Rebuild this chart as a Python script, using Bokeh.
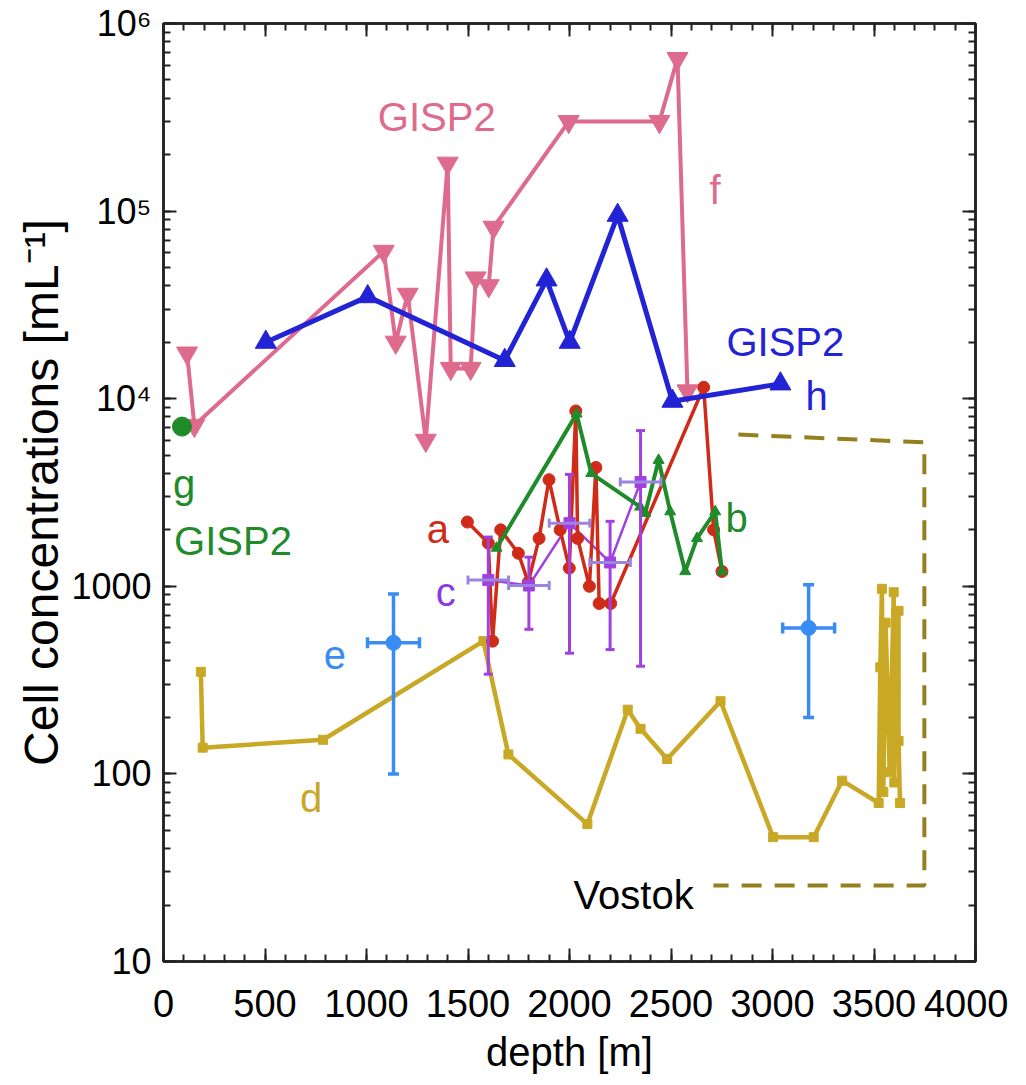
from bokeh.plotting import figure
from bokeh.models import (Range1d, FixedTicker, LinearAxis, LogAxis, CustomJSTickFormatter,
                          ColumnDataSource, Whisker, TeeHead)
from bokeh.core.properties import value
from bokeh.embed import file_html
from bokeh.resources import INLINE

FONT = "Liberation Sans"

# ---------------- data ----------------
# f: GISP2 (pink, inverted triangles)
f_depth = [116, 152, 1085, 1144, 1203, 1292, 1400, 1415, 1513, 1538, 1602, 1626, 1996, 2443, 2532, 2581]
f_cells = [17500, 7200, 61000, 20000, 36000, 6000, 180000, 14500, 14500, 44000, 40000, 82000,
           300000, 300000, 650000, 11000]

# h: GISP2 (blue, triangles)
h_depth = [504, 1006, 1681, 1887, 2001, 2237, 2507, 3039]
h_cells = [20000, 35000, 16000, 43000, 20000, 95000, 9700, 12000]

# g: GISP2 (green dot)
g_depth = [91]
g_cells = [7100]

# a (red circles)
a_depth = [1497, 1600, 1621, 1661, 1748, 1797, 1850, 1899, 1954, 1999, 2031, 2040, 2098, 2130,
           2146, 2203, 2661, 2710, 2751]
a_cells = [2200, 1700, 510, 2000, 1500, 1050, 1800, 3700, 2000, 1250, 8600, 1800, 1000, 4300,
           810, 810, 11500, 2000, 1200]

# b (green small triangles)
b_depth = [1641, 2035, 2107, 2348, 2373, 2439, 2496, 2570, 2628, 2718, 2751]
b_cells = [1600, 8300, 4000, 2650, 2450, 4700, 2500, 1200, 1800, 2500, 1200]

# c (purple squares with error bars)
c_depth = [1600, 1800, 2000, 2200, 2350]
c_cells = [1080, 1010, 2170, 1340, 3600]
c_cells_hi = [1830, 1430, 3950, 2220, 6760]
c_cells_lo = [340, 590, 440, 460, 375]
c_depth_err = [100, 100, 100, 100, 100]

# e (light blue dots with error bars)
e_depth = [1133, 3178]
e_cells = [500, 600]
e_cells_hi = [910, 1020]
e_cells_lo = [100, 200]
e_depth_err = [128, 128]

# d: Vostok (gold squares)
d_depth = [184, 193, 786, 1576, 1699, 2088, 2287, 2350, 2481, 2744, 3003, 3203, 3343, 3523,
           3531, 3539, 3546, 3557, 3568, 3577, 3597, 3600, 3605, 3621, 3621, 3628]
d_cells = [350, 138, 152, 510, 127, 54, 220, 174, 120, 244, 46, 46, 92, 70,
           370, 970, 80, 640, 250, 102, 930, 90, 300, 740, 150, 70]

# Vostok bracket
bracket_depth = [2832, 3748, 3748, 2709]
bracket_cells = [6440, 5850, 25.4, 25.4]

# axis ticks
x_ticks = [0, 500, 1000, 1500, 2000, 2500, 3000, 3500, 4000]
x_minor = list(range(0, 4001, 100))
y_ticks = [10, 100, 1000, 10000, 100000, 1000000]
y_tick_labels = ["10", "100", "1000", "10\u2074", "10\u2075", "10\u2076"]
y_minor = [m * 10 ** k for k in range(1, 6) for m in range(1, 10)]

# annotations (text, depth, cells, colour)
label_text = ["GISP2", "f", "GISP2", "h", "g", "GISP2", "a", "b", "c", "d", "e", "Vostok"]
label_depth = [1056, 2690, 2773, 3162, 47, 52, 1297, 2768, 1341, 672, 790, 2020]
label_cells = [319000, 129000, 19950, 10400, 3530, 1750, 2010, 2300, 927, 74.8, 428, 22.5]

PINK = "#de6a8e"
BLUE = "#2323d6"
GREEN = "#1f8b2a"
RED = "#d02a18"
PURPLE = "#a040e0"
LAV = "#9a86e0"
LBLUE = "#3a8cf5"
GOLD = "#c9a826"
OLIVE = "#95801f"
label_color = [PINK, PINK, BLUE, BLUE, GREEN, GREEN, RED, GREEN, "#8a3be0", GOLD, LBLUE, "#000000"]

# ---------------- figure ----------------
p = figure(frame_width=812, frame_height=938,
           x_range=Range1d(0, 4000), y_range=Range1d(10, 1e6), y_axis_type="log",
           output_backend="svg", toolbar_location=None,
           min_border_left=163, min_border_right=33, min_border_top=23, min_border_bottom=112)
p.grid.visible = False
p.outline_line_color = "#222222"
p.outline_line_width = 2.5
p.background_fill_color = "white"
p.border_fill_color = "white"


def style_axis(ax, show_labels=True):
    ax.axis_line_color = "#222222"
    ax.axis_line_width = 2.5
    ax.major_tick_line_color = "#222222"
    ax.minor_tick_line_color = "#222222"
    ax.major_tick_line_width = 2
    ax.minor_tick_line_width = 2
    ax.major_tick_in = 13
    ax.major_tick_out = 0
    ax.minor_tick_in = 7
    ax.minor_tick_out = 0
    if show_labels:
        ax.major_label_text_font = FONT
        ax.major_label_text_font_size = "38px"
        ax.major_label_text_color = "black"
        ax.axis_label_text_font = FONT
        ax.axis_label_text_font_style = "normal"
        ax.axis_label_text_color = "black"
    else:
        ax.formatter = CustomJSTickFormatter(code="return '';")
        ax.major_label_standoff = 0


xax = p.xaxis[0]
xax.ticker = FixedTicker(ticks=x_ticks, minor_ticks=x_minor)
style_axis(xax)
xax.major_label_standoff = 28
xax.axis_label = "depth [m]"
xax.axis_label_text_font_size = "40px"
xax.axis_label_standoff = 10

yax = p.yaxis[0]
yax.ticker = FixedTicker(ticks=y_ticks, minor_ticks=y_minor)
yax.formatter = CustomJSTickFormatter(args=dict(labels=y_tick_labels),
                                      code="return labels[Math.round(Math.log10(tick)) - 1];")
style_axis(yax)
yax.major_label_text_font_size = "36px"
yax.major_label_standoff = 12
yax.axis_label = "Cell concentrations [mL\u207b\u00b9]"
yax.axis_label_text_font_size = "48px"
yax.axis_label_standoff = 0

top = LinearAxis(ticker=FixedTicker(ticks=x_ticks, minor_ticks=x_minor))
style_axis(top, False)
p.add_layout(top, "above")
right = LogAxis(ticker=FixedTicker(ticks=y_ticks, minor_ticks=y_minor))
style_axis(right, False)
p.add_layout(right, "right")

# ---------------- error bars ----------------
def whisker(base, lo, hi, dim, color, width, head):
    src = ColumnDataSource(dict(base=base, lo=lo, hi=hi))
    w = Whisker(source=src, base="base", lower="lo", upper="hi", dimension=dim,
                line_color=color, line_width=width,
                upper_head=TeeHead(size=head, line_color=color, line_width=width),
                lower_head=TeeHead(size=head, line_color=color, line_width=width))
    w.level = "glyph"
    p.add_layout(w)


# ---------------- series ----------------
# d: Vostok
p.line(d_depth, d_cells, line_color=GOLD, line_width=4.5)
p.scatter(d_depth, d_cells, marker="square", size=9, fill_color=GOLD, line_color=GOLD)
p.line(bracket_depth, bracket_cells, line_color=OLIVE, line_width=4, line_dash="20 13")

# e
whisker(e_depth, e_cells_lo, e_cells_hi, "height", LBLUE, 3.5, 11)
whisker(e_cells, [d - e for d, e in zip(e_depth, e_depth_err)],
        [d + e for d, e in zip(e_depth, e_depth_err)], "width", LBLUE, 3.5, 11)
p.scatter(e_depth, e_cells, marker="circle", size=15, fill_color=LBLUE, line_color=LBLUE)

# c
whisker(c_depth, c_cells_lo, c_cells_hi, "height", PURPLE, 3, 9)
whisker(c_cells, [d - e for d, e in zip(c_depth, c_depth_err)],
        [d + e for d, e in zip(c_depth, c_depth_err)], "width", LAV, 3, 9)
p.line(c_depth, c_cells, line_color=PURPLE, line_width=2.5)

# a
p.line(a_depth, a_cells, line_color=RED, line_width=3.5)
p.scatter(a_depth, a_cells, marker="circle", size=12, fill_color=RED, line_color=RED)

p.scatter(c_depth, c_cells, marker="square", size=11, fill_color=PURPLE, line_color=PURPLE)

# b
p.line(b_depth, b_cells, line_color=GREEN, line_width=4)
p.scatter(b_depth, b_cells, marker="triangle", size=11, fill_color=GREEN, line_color=GREEN)

# f
p.line(f_depth, f_cells, line_color=PINK, line_width=4)
p.scatter(f_depth, f_cells, marker="inverted_triangle", size=21, fill_color=PINK, line_color=PINK)

# h
p.line(h_depth, h_cells, line_color=BLUE, line_width=5)
p.scatter(h_depth, h_cells, marker="triangle", size=21, fill_color=BLUE, line_color=BLUE)

# g
p.scatter(g_depth, g_cells, marker="circle", size=19, fill_color=GREEN, line_color=GREEN)

# labels
lab_src = ColumnDataSource(dict(x=label_depth, y=label_cells, t=label_text, c=label_color))
p.text(x="x", y="y", text="t", text_color="c", source=lab_src, text_font=value(FONT),
       text_font_size="40px", text_align="left", text_baseline="alphabetic")

open("out.html", "w").write(file_html(p, INLINE))
